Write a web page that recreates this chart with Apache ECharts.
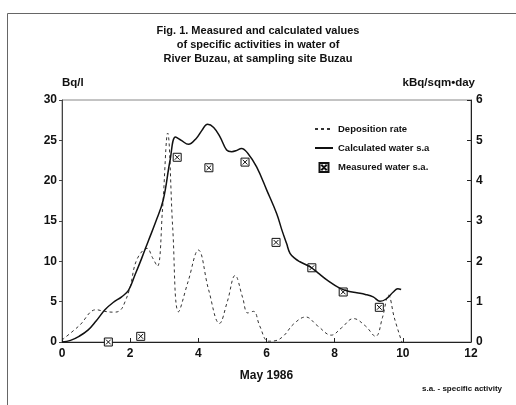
<!DOCTYPE html>
<html><head><meta charset="utf-8">
<script src="https://cdn.jsdelivr.net/npm/echarts@6/dist/echarts.min.js"></script>
<style>html,body{margin:0;padding:0;background:#fff}#c{width:516px;height:405px}</style>
</head><body><div id="c"></div>
<script>
// Title lines
const titleLines = ["Fig. 1. Measured and calculated values", "of specific activities in water of", "River Buzau, at sampling site Buzau"];
// Deposition rate (kBq/sqm·day, right axis)
const depX = [0, 0.5, 1.0, 1.25, 1.5, 1.7, 1.85, 2.0, 2.2, 2.5, 2.65, 2.8, 2.95, 3.1, 3.25, 3.42, 3.7, 4.0, 4.3, 4.62, 4.85, 5.08, 5.3, 5.45, 5.62, 5.8, 6.05, 6.25, 6.5, 6.8, 7.15, 7.5, 7.9, 8.2, 8.55, 8.9, 9.2, 9.4, 9.58, 9.75, 9.97];
const depY = [0.05, 0.4, 0.8, 0.76, 0.74, 0.78, 1.0, 1.37, 2.05, 2.32, 2.1, 1.88, 3.3, 5.18, 2.8, 0.75, 1.5, 2.28, 1.3, 0.46, 1.0, 1.65, 1.1, 0.72, 0.76, 0.4, 0.02, 0.03, 0.15, 0.45, 0.62, 0.4, 0.17, 0.35, 0.58, 0.4, 0.14, 0.6, 1.16, 0.6, 0.0];
// Calculated water specific activity (Bq/l, left axis)
const calcX = [0, 0.25, 0.5, 0.77, 1.0, 1.26, 1.5, 1.75, 1.95, 2.14, 2.34, 2.53, 2.75, 2.97, 3.17, 3.33, 3.5, 3.71, 3.95, 4.1, 4.27, 4.45, 4.64, 4.83, 4.98, 5.1, 5.27, 5.45, 5.71, 6.01, 6.3, 6.45, 6.59, 6.69, 6.85, 6.98, 7.28, 7.5, 7.77, 8.16, 8.4, 8.65, 8.9, 9.13, 9.33, 9.5, 9.72, 9.85, 9.95];
const calcY = [0, 0.2, 0.7, 1.5, 2.6, 4.0, 4.9, 5.6, 6.4, 8.3, 10.4, 12.5, 14.9, 17.6, 22.5, 25.4, 25.0, 24.5, 25.3, 26.2, 27.0, 26.6, 25.4, 23.8, 23.6, 23.7, 24.0, 23.4, 21.7, 18.8, 15.9, 13.9, 12.2, 11.0, 10.3, 9.95, 9.3, 8.6, 7.7, 6.65, 6.3, 6.1, 5.9, 5.6, 5.05, 5.3, 6.2, 6.6, 6.5];
// Measured water specific activity (Bq/l, left axis)
const measX = [1.36, 2.31, 3.38, 4.31, 5.37, 6.28, 7.33, 8.25, 9.31];
const measY = [0.0, 0.7, 22.9, 21.6, 22.3, 12.35, 9.2, 6.2, 4.3];
// Axis tick settings
const xTicks = {min: 0, max: 12, interval: 2};
const yLeft = {min: 0, max: 30, interval: 5};
const yRight = {min: 0, max: 6, interval: 1};

const zip = (a, b) => a.map((v, i) => [v, b[i]]);
const FONT = '"Liberation Sans", Arial, sans-serif';
const markPath = 'path://M0,0L10,0L10,10L0,10Z M2,2L8,8 M8,2L2,8';

const chart = echarts.init(document.getElementById('c'), null, {renderer: 'canvas'});
chart.setOption({
  animation: false,
  backgroundColor: '#fff',
  textStyle: {fontFamily: FONT},
  grid: {left: 62, right: 45, top: 100, bottom: 63, show: true, borderColor: '#888', borderWidth: 1},
  legend: {
    orient: 'vertical', left: 309, top: 119, itemWidth: 18, itemHeight: 9, itemGap: 9,
    textStyle: {fontFamily: FONT, fontWeight: 'bold', fontSize: 9.5, color: '#111'},
    data: [
      {name: 'Deposition rate', itemStyle: {opacity: 0}},
      {name: 'Calculated water s.a', itemStyle: {opacity: 0}},
      {name: 'Measured water s.a.', icon: markPath}
    ]
  },
  xAxis: {
    type: 'value', min: xTicks.min, max: xTicks.max, interval: xTicks.interval,
    name: 'May 1986', nameLocation: 'middle', nameGap: 28,
    nameTextStyle: {fontFamily: FONT, fontWeight: 'bold', fontSize: 12, color: '#111'},
    axisLine: {lineStyle: {color: '#222', width: 1}},
    axisTick: {inside: true, length: 4, lineStyle: {color: '#222'}},
    axisLabel: {margin: 6, fontFamily: FONT, fontWeight: 'bold', fontSize: 12, color: '#111'},
    splitLine: {show: false}
  },
  yAxis: [{
    type: 'value', min: yLeft.min, max: yLeft.max, interval: yLeft.interval,
    name: 'Bq/l', nameLocation: 'end', nameGap: 11,
    nameTextStyle: {fontFamily: FONT, fontWeight: 'bold', fontSize: 11.5, color: '#111', align: 'left'},
    axisLine: {show: true, lineStyle: {color: '#444', width: 1}},
    axisTick: {show: true, inside: false, length: 3, lineStyle: {color: '#444'}},
    axisLabel: {margin: 5, fontFamily: FONT, fontWeight: 'bold', fontSize: 12, color: '#111'},
    splitLine: {show: false}
  }, {
    type: 'value', position: 'right', min: yRight.min, max: yRight.max, interval: yRight.interval,
    name: 'kBq/sqm\u2022day', nameLocation: 'end', nameGap: 11,
    nameTextStyle: {fontFamily: FONT, fontWeight: 'bold', fontSize: 11.5, color: '#111', align: 'right', padding: [0, -4, 0, 0]},
    axisLine: {show: true, lineStyle: {color: '#222', width: 1}},
    axisTick: {show: true, inside: true, length: 4, lineStyle: {color: '#222'}},
    axisLabel: {margin: 5, fontFamily: FONT, fontWeight: 'bold', fontSize: 12, color: '#111'},
    splitLine: {show: false}
  }],
  series: [{
    name: 'Deposition rate', type: 'line', yAxisIndex: 1, smooth: 0.4, showSymbol: false, symbol: 'none',
    data: zip(depX, depY),
    lineStyle: {color: '#333', width: 1, type: [3, 3]},
    itemStyle: {color: '#333'}
  }, {
    name: 'Calculated water s.a', type: 'line', yAxisIndex: 0, smooth: 0.4, showSymbol: false, symbol: 'none',
    data: zip(calcX, calcY),
    lineStyle: {color: '#111', width: 1.5},
    itemStyle: {color: '#111'}
  }, {
    name: 'Measured water s.a.', type: 'scatter', yAxisIndex: 0, symbol: markPath, symbolSize: 8,
    data: zip(measX, measY),
    itemStyle: {color: '#fff', borderColor: '#111', borderWidth: 1, opacity: 1}
  }],
  graphic: [
    {type: 'rect', left: 5, top: 11, shape: {width: 530, height: 420}, style: {fill: 'none', stroke: '#666', lineWidth: 1}, silent: true},
    {type: 'text', x: 258, y: 31, style: {text: titleLines[0], font: 'bold 11px ' + FONT, fill: '#111', textAlign: 'center', textVerticalAlign: 'middle'}},
    {type: 'text', x: 258, y: 45, style: {text: titleLines[1], font: 'bold 11px ' + FONT, fill: '#111', textAlign: 'center', textVerticalAlign: 'middle'}},
    {type: 'text', x: 258, y: 59, style: {text: titleLines[2], font: 'bold 11px ' + FONT, fill: '#111', textAlign: 'center', textVerticalAlign: 'middle'}},
    {type: 'text', x: 502, y: 389, style: {text: 's.a. - specific activity', font: 'bold 8px ' + FONT, fill: '#111', textAlign: 'right', textVerticalAlign: 'middle'}}
  ]
});
</script></body></html>
